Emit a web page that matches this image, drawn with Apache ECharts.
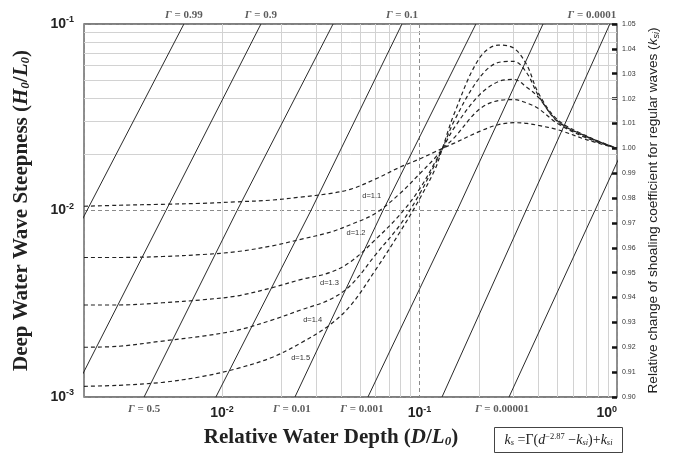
<!DOCTYPE html>
<html><head><meta charset="utf-8">
<script src="https://cdn.jsdelivr.net/npm/echarts@6/dist/echarts.min.js"></script>
<style>html,body{margin:0;padding:0;background:#fff}#c{width:677px;height:456px}</style>
</head><body><div id="c"></div>
<script>
// ---- Gamma lines (straight on log-log), x = D/L0 where H0/L0 = 0.001, 0.01, 0.1
const gammaLabels = ['0.99', '0.9', '0.5', '0.1', '0.01', '0.001', '0.0001', '0.00001'];
const gammaSteepness = [0.001, 0.01, 0.1];
const gammaXAtLow  = [0.00067, 0.00172, 0.00403, 0.00931, 0.0234, 0.0548, 0.130, 0.284];
const gammaXAtMid  = [0.00207, 0.00520, 0.01192, 0.0282, 0.0653, 0.155, 0.346, 0.773];
const gammaXAtHigh = [0.00641, 0.01574, 0.0365, 0.0815, 0.193, 0.422, 0.920, 2.10];
const gammaLabelSide = ['top', 'top', 'bottom', 'top', 'bottom', 'bottom', 'top', 'bottom'];

// ---- Relative change of shoaling coefficient curves (right axis)
const depthX = [0.002, 0.003, 0.005, 0.008, 0.012, 0.018, 0.025, 0.035, 0.045, 0.06, 0.08, 0.1, 0.12, 0.13, 0.15, 0.2, 0.25, 0.3, 0.35, 0.4, 0.5, 0.7, 1.0];
const curveNames = ['d=1.1', 'd=1.2', 'd=1.3', 'd=1.4', 'd=1.5'];
const d11 = [0.9767, 0.9771, 0.9775, 0.9779, 0.9785, 0.9792, 0.9804, 0.9818, 0.9836, 0.9877, 0.9925, 0.9957, 0.9986, 0.9999, 1.0021, 1.0067, 1.0095, 1.0103, 1.0100, 1.0092, 1.0075, 1.0035, 1.0000];
const d12 = [0.9561, 0.9561, 0.9565, 0.9573, 0.9585, 0.9608, 0.9634, 0.9662, 0.9694, 0.9739, 0.9820, 0.9897, 0.9962, 0.9995, 1.0043, 1.0156, 1.0192, 1.0196, 1.0182, 1.0160, 1.0100, 1.0042, 1.0000];
const d13 = [0.9370, 0.9370, 0.9379, 0.9391, 0.9407, 0.9440, 0.9472, 0.9500, 0.9545, 0.9634, 0.9735, 0.9836, 0.9945, 0.9995, 1.0083, 1.0213, 1.0268, 1.0277, 1.0245, 1.0205, 1.0108, 1.0046, 1.0000];
const d14 = [0.9200, 0.9204, 0.9225, 0.9245, 0.9269, 0.9310, 0.9350, 0.9391, 0.9451, 0.9573, 0.9694, 0.9816, 0.9937, 0.9995, 1.0111, 1.0281, 1.0345, 1.0350, 1.0302, 1.0212, 1.0110, 1.0048, 1.0000];
const d15 = [0.9043, 0.9047, 0.9059, 0.9083, 0.9115, 0.9160, 0.9217, 0.9289, 0.9370, 0.9512, 0.9666, 0.9796, 0.9917, 0.9995, 1.0140, 1.0360, 1.0415, 1.0403, 1.0334, 1.0222, 1.0115, 1.0050, 1.0000];
const curveLabelAt = [0.06, 0.045, 0.035, 0.025, 0.025];

// ---- gridlines
const minorX = [0.003, 0.004, 0.005, 0.006, 0.007, 0.008, 0.009, 0.02, 0.03, 0.04, 0.05, 0.06, 0.07, 0.08, 0.09, 0.2, 0.3, 0.4, 0.5, 0.6, 0.7, 0.8, 0.9];
const minorY = [0.002, 0.003, 0.02, 0.03, 0.04, 0.05, 0.06, 0.07, 0.08, 0.09];

// ---- style-only config
const curveLabelOffset = [[-4, 17], [5, 9], [0, 10], [12, 10], [0, 15]];
const gammaLabelOffset = [[0, 0], [0, 0], [0, 0], [0, 0], [-3, 0], [-6, 0], [-18, 0], [-7, 0]];

const chart = echarts.init(document.getElementById('c'), null, {renderer: 'canvas'});

function powLabel(v) {
  const e = Math.log10(v);
  const r = Math.round(e);
  if (Math.abs(e - r) > 1e-6) return '';
  return '{b|10}{s|' + r + '}';
}
const powRich = {
  b: {fontFamily: 'Liberation Sans', fontWeight: 'bold', fontSize: 14, color: '#222'},
  s: {fontFamily: 'Liberation Sans', fontWeight: 'bold', fontSize: 9, color: '#222', padding: [0, 0, 8, 0]}
};
const serifRich = {
  t: {fontFamily: 'Liberation Serif', fontWeight: 'bold', fontSize: 21, color: '#222'},
  it: {fontFamily: 'Liberation Serif', fontWeight: 'bold', fontStyle: 'italic', fontSize: 21, color: '#222'},
  sb: {fontFamily: 'Liberation Serif', fontWeight: 'bold', fontStyle: 'italic', fontSize: 13, color: '#222', padding: [8, 0, 0, 0]}
};

const series = [];

// gridline carrier
series.push({
  type: 'line', xAxisIndex: 0, yAxisIndex: 0, data: [], silent: true,
  markLine: {
    silent: true, symbol: ['none', 'none'], label: {show: false}, z: 1, animation: false,
    lineStyle: {color: '#d2d2d2', type: 'solid', width: 1},
    data: minorX.map(v => ({xAxis: v})).concat(minorY.map(v => ({yAxis: v})))
  }
});

// gamma lines
gammaLabels.forEach((g, i) => {
  series.push({
    type: 'line', xAxisIndex: 0, yAxisIndex: 0, silent: true, showSymbol: false, z: 3,
    lineStyle: {color: '#2a2a2a', width: 1},
    data: [[gammaXAtLow[i], gammaSteepness[0]], [gammaXAtMid[i], gammaSteepness[1]], [gammaXAtHigh[i], gammaSteepness[2]]]
  });
});
// gamma labels
series.push({
  type: 'scatter', xAxisIndex: 0, yAxisIndex: 0, silent: true, clip: false, symbolSize: 0, z: 4,
  data: gammaLabels.map((g, i) => {
    const top = gammaLabelSide[i] === 'top';
    return {
      value: top ? [gammaXAtHigh[i], gammaSteepness[2]] : [gammaXAtLow[i], gammaSteepness[0]],
      label: {
        show: true, position: top ? 'top' : 'bottom', distance: top ? 3 : 7,
        offset: gammaLabelOffset[i],
        formatter: '{g|Γ}{t| = ' + g + '}',
        rich: {
          g: {fontFamily: 'Liberation Serif', fontStyle: 'italic', fontWeight: 'bold', fontSize: 11, color: '#333'},
          t: {fontFamily: 'Liberation Serif', fontWeight: 'bold', fontSize: 11, color: '#333'}
        }
      }
    };
  })
});

// shoaling curves
[d11, d12, d13, d14, d15].forEach((vals, k) => {
  series.push({
    type: 'line', xAxisIndex: 0, yAxisIndex: 1, silent: true, z: 5,
    smooth: 0.35, symbol: 'circle', symbolSize: 0, showSymbol: true, showAllSymbol: true,
    lineStyle: {color: '#222', width: 1.2, type: [4, 3]},
    itemStyle: {color: '#222'},
    data: depthX.map((x, i) => {
      if (x === curveLabelAt[k]) {
        return {
          value: [x, vals[i]],
          label: {
            show: true, position: 'inside', offset: curveLabelOffset[k],
            formatter: curveNames[k], fontFamily: 'Liberation Sans', fontSize: 7.5, color: '#333'
          }
        };
      }
      return [x, vals[i]];
    })
  });
});

const option = {
  animation: false,
  backgroundColor: '#fff',
  grid: {left: 84, top: 24, width: 533, height: 373, show: true, borderColor: '#555', borderWidth: 1.3, backgroundColor: 'transparent'},
  xAxis: {
    type: 'log', logBase: 10, min: 0.002, max: 1,
    axisLine: {show: false}, axisTick: {show: false},
    splitLine: {show: true, lineStyle: {color: '#8a8a8a', type: [4, 3], width: 1}},
    axisLabel: {formatter: powLabel, rich: powRich, margin: 8, alignMaxLabel: 'right'},
    name: '{t|Relative Water Depth (}{it|D}{t|/}{it|L}{sb|0}{t|)}',
    nameLocation: 'middle', nameGap: 30,
    nameTextStyle: {rich: serifRich, padding: [0, 39, 0, 0]}
  },
  yAxis: [{
    type: 'log', logBase: 10, min: 0.001, max: 0.1, position: 'left',
    axisLine: {show: false}, axisTick: {show: false},
    splitLine: {show: true, lineStyle: {color: '#8a8a8a', type: [4, 3], width: 1}},
    axisLabel: {formatter: powLabel, rich: powRich, margin: 10},
    name: '{t|Deep Water Wave Steepness (}{it|H}{sb|0}{t|/}{it|L}{sb|0}{t|)}',
    nameLocation: 'middle', nameGap: 52,
    nameTextStyle: {rich: serifRich}
  }, {
    type: 'value', min: 0.9, max: 1.05, interval: 0.01, position: 'right',
    axisLine: {show: false},
    axisTick: {show: true, inside: true, length: 5, lineStyle: {color: '#111', width: 2.5}},
    splitLine: {show: false},
    axisLabel: {formatter: v => v.toFixed(2), fontFamily: 'Liberation Sans', fontSize: 7, color: '#333', margin: 5},
    name: '{t|Relative change of shoaling coefficient for regular waves (}{it|k}{sb|si}{t|)}',
    nameLocation: 'middle', nameGap: 27,
    nameTextStyle: {rich: {
      t: {fontFamily: 'Liberation Sans', fontSize: 13.6, color: '#222'},
      it: {fontFamily: 'Liberation Sans', fontStyle: 'italic', fontSize: 13.6, color: '#222'},
      sb: {fontFamily: 'Liberation Sans', fontStyle: 'italic', fontSize: 9, color: '#222', padding: [6, 0, 0, 0]}
    }}
  }],
  graphic: [{
    type: 'group', left: 494, top: 427,
    children: [
      {type: 'rect', shape: {x: 0, y: 0, width: 128, height: 25}, style: {fill: '#fff', stroke: '#444', lineWidth: 1}},
      {type: 'text', x: 64, y: 12.5, style: {
        text: '{i|k}{sb|s}{n| =Γ(}{i|d}{sp|−2.87}{n| −}{i|k}{sb|si}{n|)+}{i|k}{sb|si}',
        align: 'center', verticalAlign: 'middle',
        rich: {
          i: {fontFamily: 'Liberation Serif', fontStyle: 'italic', fontSize: 14, fill: '#222'},
          n: {fontFamily: 'Liberation Serif', fontSize: 14, fill: '#222'},
          sb: {fontFamily: 'Liberation Serif', fontStyle: 'italic', fontSize: 8.5, fill: '#222', padding: [6, 0, 0, 0]},
          sp: {fontFamily: 'Liberation Serif', fontSize: 8.5, fill: '#222', padding: [0, 0, 7, 0]}
        }
      }}
    ]
  }],
  series: series
};
chart.setOption(option);
</script>
</body></html>
